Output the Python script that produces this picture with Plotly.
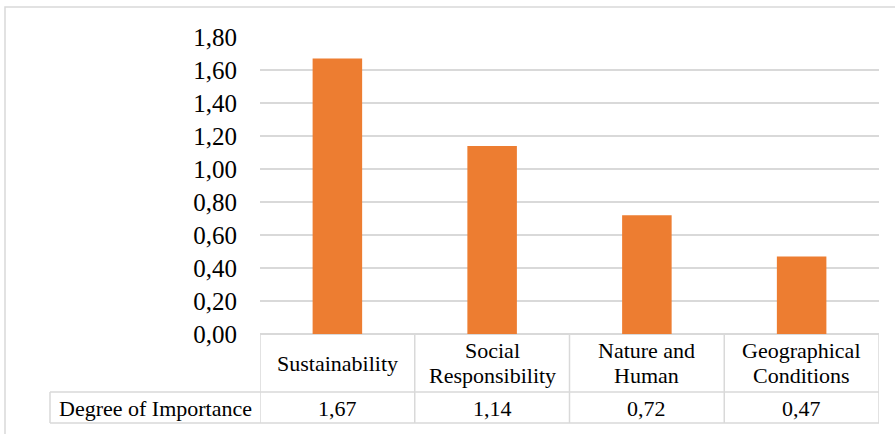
import plotly.graph_objects as go

# Chart data
categories = ["Sustainability", "Social\nResponsibility", "Nature and\nHuman", "Geographical\nConditions"]
importance = [1.67, 1.14, 0.72, 0.47]
series_name = "Degree of Importance"
y_ticks = [0.0, 0.2, 0.4, 0.6, 0.8, 1.0, 1.2, 1.4, 1.6, 1.8]

# Page geometry (pixels)
W, H = 895, 434
ML, MR, MT, MB = 260, 16, 37, 100
PW, PH = W - ML - MR, H - MT - MB

FONT = "Liberation Serif"
GRID = "#D9D9D9"
BAR = "#ED7D31"
TABLE_SIZE = 22


def px_x(p):
    return (p - ML) / PW


def px_y(p):
    return (H - MB - p) / PH


xs = list(range(len(categories)))

fig = go.Figure(
    go.Bar(
        x=xs,
        y=importance,
        width=0.32,
        marker=dict(color=BAR, line=dict(width=0)),
        name=series_name,
        hoverinfo="skip",
    )
)

shapes = []
# outer chart frame
shapes.append(dict(type="rect", xref="paper", yref="paper",
                   x0=px_x(5), x1=px_x(930), y0=px_y(460), y1=px_y(7),
                   line=dict(color=GRID, width=1.5), fillcolor="rgba(0,0,0,0)", layer="below"))
# data table: horizontal rules
row_mid, row_bot = 392, 423
for yy in (row_mid, row_bot):
    shapes.append(dict(type="line", xref="paper", yref="paper",
                       x0=px_x(50), x1=px_x(W - MR), y0=px_y(yy), y1=px_y(yy),
                       line=dict(color=GRID, width=1.5)))
# data table: column separators
for i in range(len(categories) + 1):
    shapes.append(dict(type="line", xref="x", yref="paper",
                       x0=i - 0.5, x1=i - 0.5, y0=0, y1=px_y(row_bot),
                       line=dict(color=GRID, width=1.5)))
shapes.append(dict(type="line", xref="paper", yref="paper",
                   x0=px_x(50), x1=px_x(50), y0=px_y(row_mid), y1=px_y(row_bot),
                   line=dict(color=GRID, width=1.5)))

annotations = []
cat_center, line_gap = 363, 25
for i, label in enumerate(categories):
    lines = label.split("\n")
    n = len(lines)
    for k, line in enumerate(lines):
        yy = cat_center + (k - (n - 1) / 2) * line_gap
        annotations.append(dict(xref="x", yref="paper", x=i, y=px_y(yy),
                                text=line, showarrow=False, xanchor="center", yanchor="middle",
                                font=dict(family=FONT, size=TABLE_SIZE, color="#000000")))
val_center = 408
for i, v in enumerate(importance):
    annotations.append(dict(xref="x", yref="paper", x=i, y=px_y(val_center),
                            text=f"{v:.2f}".replace(".", ","), showarrow=False,
                            xanchor="center", yanchor="middle",
                            font=dict(family=FONT, size=TABLE_SIZE, color="#000000")))
annotations.append(dict(xref="paper", yref="paper", x=px_x(155), y=px_y(val_center),
                        text=series_name, showarrow=False, xanchor="center", yanchor="middle",
                        font=dict(family=FONT, size=TABLE_SIZE, color="#000000")))

fig.update_layout(
    width=W, height=H,
    margin=dict(l=ML, r=MR, t=MT, b=MB, pad=0),
    paper_bgcolor="white", plot_bgcolor="white",
    separators=",.",
    showlegend=False,
    shapes=shapes,
    annotations=annotations,
    xaxis=dict(range=[-0.5, len(categories) - 0.5], showticklabels=False, showgrid=False,
               zeroline=False, showline=False, ticks="", fixedrange=True),
    yaxis=dict(range=[0, 1.8], tickvals=y_ticks, tickformat=".2f",
               showgrid=True, gridcolor=GRID, gridwidth=1.5,
               zeroline=True, zerolinecolor=GRID, zerolinewidth=1.5,
               showline=False, ticks="", ticklabelstandoff=22,
               tickfont=dict(family=FONT, size=25, color="#000000"), fixedrange=True),
)

fig.write_html("out.html")
